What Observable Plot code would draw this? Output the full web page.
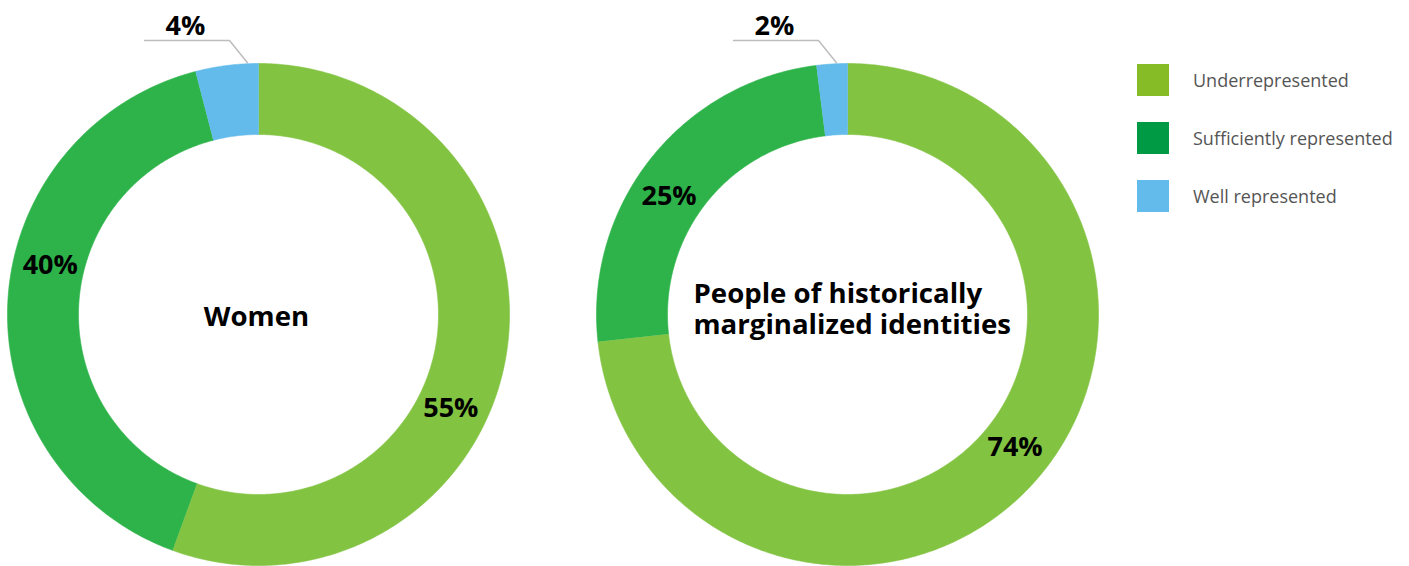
<!DOCTYPE html>
<html>
<head>
<meta charset="utf-8">
<script src="https://cdn.jsdelivr.net/npm/d3@7"></script>
<script src="https://cdn.jsdelivr.net/npm/@observablehq/plot@0.6"></script>
<style>
  html, body { margin: 0; padding: 0; background: #fff; }
  #wrap { position: relative; width: 1409px; height: 566px; overflow: hidden; }
  #legend { position: absolute; left: 1137px; top: 64px; font-family: "Open Sans", sans-serif; }
  .item { display: flex; align-items: center; height: 32px; margin-bottom: 26px; }
  .sw { width: 32px; height: 32px; margin-right: 24px; }
  .lab { font-size: 18px; color: #555; white-space: nowrap; line-height: 32px; }
</style>
</head>
<body>
<div id="wrap"><div id="legend"></div></div>
<script>
// ---- data ----
const groups = ["Women", "People of historically marginalized identities"];
const centerLabels = ["Women", "People of historically\nmarginalized identities"];
const categories = ["Underrepresented", "Sufficiently represented", "Well represented"];
const women = [55, 40, 4];
const marginalized = [74, 25, 2];
const seriesValues = [women, marginalized];

// ---- styling / layout config ----
const arcColors = ["#82c341", "#2db34a", "#62bbea"];
const legendColors = ["#86bc25", "#009a44", "#62bbea"];
const pxPerUnit = 251;
const centersX = [0, 589 / 251];
const innerR = 180 / 251;
const labelR = 214 / 251;
// fraction along the slice where its label sits (null => outside label)
const labelFrac = [[0.58, 0.573, null], [0.487, 0.446, null]];

const W = 1409, H = 566;
const cxPx = 258, cyPx = 314;

const polys = [];
const labels = [];
const leaders = [];
const outside = [];
seriesValues.forEach((vals, g) => {
  const total = d3.sum(vals);
  let acc = 0;
  vals.forEach((v, i) => {
    const a0 = acc / total * 2 * Math.PI;
    acc += v;
    const a1 = acc / total * 2 * Math.PI;
    const n = Math.max(4, Math.ceil((a1 - a0) / (Math.PI / 360)));
    const pts = [];
    for (let k = 0; k <= n; k++) {
      const a = a0 + (a1 - a0) * k / n;
      pts.push({x: centersX[g] + Math.sin(a), y: Math.cos(a)});
    }
    for (let k = n; k >= 0; k--) {
      const a = a0 + (a1 - a0) * k / n;
      pts.push({x: centersX[g] + innerR * Math.sin(a), y: innerR * Math.cos(a)});
    }
    polys.push({g, i, pts});
    if (labelFrac[g][i] != null) {
      const a = a0 + (a1 - a0) * labelFrac[g][i];
      labels.push({x: centersX[g] + labelR * Math.sin(a), y: labelR * Math.cos(a), text: v + "%"});
    } else {
      const aEnd = a1 - 0.0438;
      const ex = Math.sin(aEnd) * 1.004, ey = Math.cos(aEnd) * 1.004;
      leaders.push(
        {x: centersX[g] - 0.454, y: 1.092, k: g},
        {x: centersX[g] - 0.1155, y: 1.092, k: g},
        {x: centersX[g] + ex, y: ey, k: g}
      );
      outside.push({x: centersX[g] - 0.291, y: 1.147, text: v + "%"});
    }
  });
});

const marks = polys.map(p => Plot.line(p.pts, {
  x: "x", y: "y", fill: arcColors[p.i], stroke: arcColors[p.i], strokeWidth: 0.6, curve: "linear"
}));

marks.push(Plot.line(leaders, {x: "x", y: "y", z: "k", stroke: "#bdbdbd", strokeWidth: 1.5}));
marks.push(Plot.text(labels, {x: "x", y: "y", text: "text", fontSize: 27, fontWeight: "bold", fill: "#000"}));
marks.push(Plot.text(outside, {x: "x", y: "y", text: "text", fontSize: 27, fontWeight: "bold", fill: "#000"}));
marks.push(Plot.text([{x: centersX[0] - 0.008, y: -0.012, t: centerLabels[0]}], {
  x: "x", y: "y", text: "t", fontSize: 27.6, fontWeight: "bold", fill: "#000"
}));
marks.push(Plot.text([{x: centersX[1] - 0.6135, y: 0.022, t: centerLabels[1]}], {
  x: "x", y: "y", text: "t", fontSize: 27.6, fontWeight: "bold", fill: "#000", textAnchor: "start", lineHeight: 1.12
}));

const chart = Plot.plot({
  width: W, height: H,
  margin: 0,
  style: {fontFamily: "'Open Sans', sans-serif", background: "#fff"},
  x: {domain: [-cxPx / pxPerUnit, (W - cxPx) / pxPerUnit], axis: null},
  y: {domain: [-(H - cyPx) / pxPerUnit, cyPx / pxPerUnit], axis: null},
  marks
});
const wrap = document.getElementById("wrap");
wrap.insertBefore(chart, wrap.firstChild);

const legend = document.getElementById("legend");
categories.forEach((c, i) => {
  const it = document.createElement("div");
  it.className = "item";
  it.innerHTML = `<div class="sw" style="background:${legendColors[i]}"></div><div class="lab">${c}</div>`;
  legend.appendChild(it);
});
</script>
</body>
</html>
